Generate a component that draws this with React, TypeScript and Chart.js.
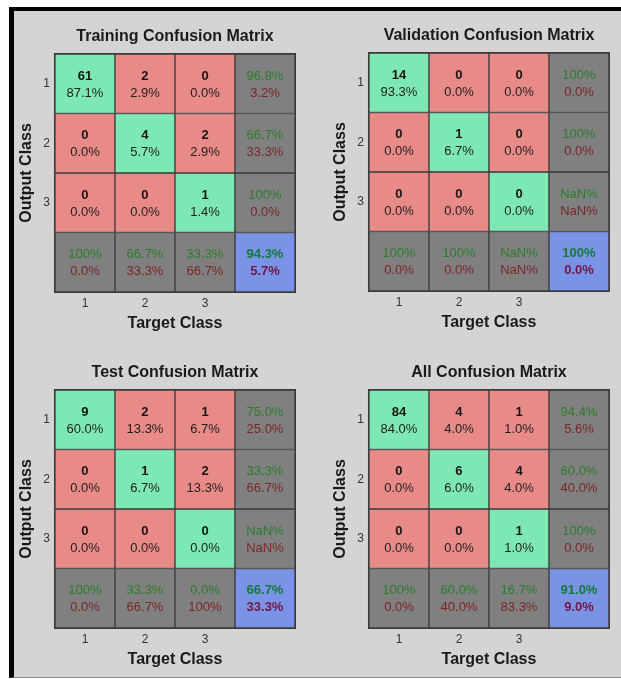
import React, { useEffect, useRef } from "react";
import { Chart, registerables } from "chart.js";

Chart.register(...registerables);

// ---- data ----
const targetLabels = ["1", "2", "3", ""];
const outputLabels = ["1", "2", "3", ""];
const panelTitles = [
  "Training Confusion Matrix",
  "Validation Confusion Matrix",
  "Test Confusion Matrix",
  "All Confusion Matrix",
];
const trainingCounts = [
  [61, 2, 0],
  [0, 4, 2],
  [0, 0, 1],
];
const validationCounts = [
  [14, 0, 0],
  [0, 1, 0],
  [0, 0, 0],
];
const testCounts = [
  [9, 2, 1],
  [0, 1, 2],
  [0, 0, 0],
];
const allCounts = [
  [84, 4, 1],
  [0, 6, 4],
  [0, 0, 1],
];

// ---- styles ----
const FONT = "'Liberation Sans', Arial, Helvetica, sans-serif";
const GREEN = "#7de8b3";
const RED = "#e88a87";
const GRAY = "#808080";
const BLUE = "#7b93e6";
const GRID = "#3a3a3a";

function cellColor(r: number, c: number) {
  if (r === 3 && c === 3) return BLUE;
  if (r === 3 || c === 3) return GRAY;
  if (r === c) return GREEN;
  return RED;
}

function fmt(v: number) {
  if (isNaN(v)) return "NaN%";
  if (Math.abs(v - 100) < 1e-9) return "100%";
  return v.toFixed(1) + "%";
}

function makeTextPlugin(counts: number[][]) {
  return {
    id: "cellText",
    afterDatasetsDraw(chart: any) {
      const ctx = chart.ctx;
      const ca = chart.chartArea;
      const n = counts.length;
      let total = 0;
      let correct = 0;
      for (let i = 0; i < n; i++)
        for (let j = 0; j < n; j++) {
          total += counts[i][j];
          if (i === j) correct += counts[i][j];
        }
      ctx.save();
      ctx.strokeStyle = GRID;
      ctx.lineWidth = 1;
      ctx.strokeRect(ca.left - 0.5, ca.top - 0.5, ca.right - ca.left + 1, ca.bottom - ca.top + 1);
      ctx.textAlign = "center";
      ctx.textBaseline = "middle";
      const up = 7.5;
      const down = 9.5;
      chart.data.datasets.forEach((_ds: any, r: number) => {
        const meta = chart.getDatasetMeta(r);
        meta.data.forEach((el: any, c: number) => {
          const p = el.getCenterPoint();
          const x = p.x;
          const y = p.y;
          if (r < n && c < n) {
            ctx.fillStyle = "#161616";
            ctx.font = `bold 13px ${FONT}`;
            ctx.fillText(String(counts[r][c]), x, y - up);
            ctx.fillStyle = "#1e1e1e";
            ctx.font = `13px ${FONT}`;
            ctx.fillText(fmt((100 * counts[r][c]) / total), x, y + down);
          } else {
            let good = 0;
            let sum = 0;
            if (r < n && c === n) {
              good = counts[r][r];
              sum = counts[r].reduce((a, b) => a + b, 0);
            } else if (r === n && c < n) {
              good = counts[c][c];
              for (let i = 0; i < n; i++) sum += counts[i][c];
            } else {
              good = correct;
              sum = total;
            }
            const acc = sum === 0 ? NaN : (100 * good) / sum;
            const err = sum === 0 ? NaN : 100 - acc;
            const corner = r === n && c === n;
            ctx.font = `${corner ? "bold " : ""}13px ${FONT}`;
            ctx.fillStyle = corner ? "#137a3c" : "#2a7d2a";
            ctx.fillText(fmt(acc), x, y - up);
            ctx.fillStyle = corner ? "#701844" : "#7a2626";
            ctx.fillText(fmt(err), x, y + down);
          }
        });
      });
      ctx.restore();
    },
  };
}

function ConfusionPanel(props: { title: string; counts: number[][]; left: number; top: number }) {
  const ref = useRef<HTMLCanvasElement | null>(null);
  useEffect(() => {
    if (!ref.current) return;
    const datasets = outputLabels.map((_lab, r) => ({
      label: "row " + (r + 1),
      data: targetLabels.map(() => 1),
      backgroundColor: targetLabels.map((_t, c) => cellColor(r, c)),
      borderColor: GRID,
      borderWidth: 1,
      borderSkipped: false as const,
      stack: "m",
      barPercentage: 1,
      categoryPercentage: 1,
    }));
    const chart = new Chart(ref.current, {
      type: "bar",
      data: { labels: targetLabels, datasets },
      options: {
        animation: false,
        responsive: false,
        devicePixelRatio: 1,
        events: [],
        layout: { padding: { left: 0, right: 9, top: 0, bottom: 3.4 } },
        plugins: {
          legend: { display: false },
          tooltip: { enabled: false },
          title: {
            display: true,
            text: props.title,
            fullSize: false,
            color: "#1a1a1a",
            font: { family: FONT, size: 16, weight: "bold" },
            padding: { top: 15.4, bottom: 7.4 },
          },
        },
        scales: {
          x: {
            type: "category",
            stacked: true,
            grid: { display: false, drawTicks: false },
            border: { display: false },
            ticks: { color: "#333", font: { family: FONT, size: 12 }, padding: 4 },
            title: {
              display: true,
              text: "Target Class",
              color: "#1a1a1a",
              font: { family: FONT, size: 16, weight: "bold" },
              padding: { top: 0, bottom: 0 },
            },
          },
          y: {
            type: "linear",
            stacked: true,
            min: 0,
            max: 4,
            reverse: true,
            display: false,
          },
          yc: {
            type: "category",
            axis: "y",
            position: "left",
            offset: true,
            labels: outputLabels,
            grid: { display: false, drawTicks: false, offset: true },
            border: { display: false },
            ticks: { color: "#333", font: { family: FONT, size: 12 }, padding: 5 },
            title: {
              display: true,
              text: "Output Class",
              color: "#1a1a1a",
              font: { family: FONT, size: 16, weight: "bold" },
              padding: { top: 3.4, bottom: 1.7 },
            },
          },
        },
      } as any,
      plugins: [makeTextPlugin(props.counts)],
    });
    return () => chart.destroy();
  }, [props.title, props.counts]);
  return (
    <canvas
      ref={ref}
      width={290}
      height={325}
      style={{ position: "absolute", left: props.left - 41, top: props.top - 42, width: 290, height: 325 }}
    />
  );
}

export default function App() {
  return (
    <div style={{ position: "absolute", left: 0, top: 0, width: 621, height: 679, background: "#fff", overflow: "hidden" }}>
      <div
        style={{
          position: "absolute",
          left: 9,
          top: 7,
          width: 612,
          height: 671,
          boxSizing: "border-box",
          background: "#d4d4d4",
          borderLeft: "5px solid #000",
          borderTop: "4px solid #000",
          borderBottom: "1px solid #8a8a8a",
        }}
      />
      <ConfusionPanel title={panelTitles[0]} counts={trainingCounts} left={55} top={54} />
      <ConfusionPanel title={panelTitles[1]} counts={validationCounts} left={369} top={53} />
      <ConfusionPanel title={panelTitles[2]} counts={testCounts} left={55} top={390} />
      <ConfusionPanel title={panelTitles[3]} counts={allCounts} left={369} top={390} />
    </div>
  );
}
